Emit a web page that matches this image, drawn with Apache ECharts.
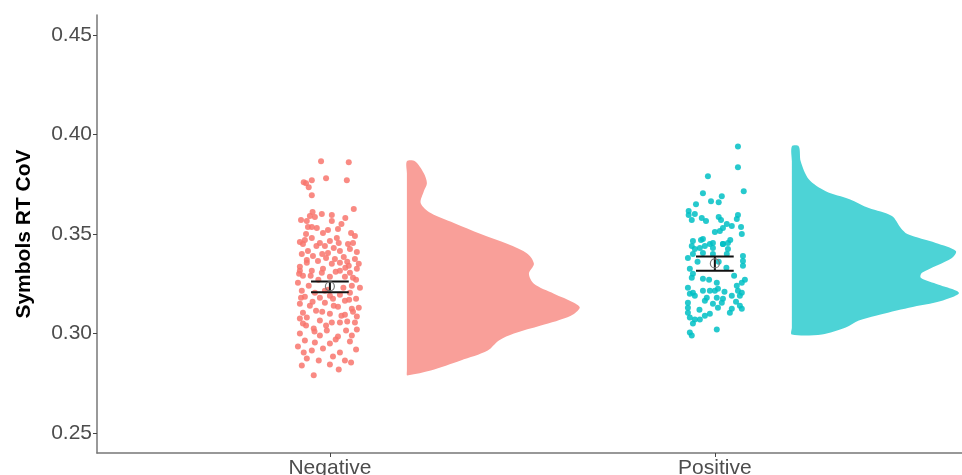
<!DOCTYPE html>
<html>
<head>
<meta charset="utf-8">
<script src="https://cdn.jsdelivr.net/npm/echarts@6/dist/echarts.min.js"></script>
<style>
  html, body { margin: 0; padding: 0; background: #fff; }
  #chart { width: 962px; height: 475px; }
</style>
</head>
<body>
<div id="chart"></div>
<script>
var categories = ['Negative', 'Positive'];
var yTicks = [0.25, 0.30, 0.35, 0.40, 0.45];

// jittered points: [offset from category centre, value]
var negPoints = [
	[-0.023, 0.3865], [0.049, 0.386], [-0.068, 0.376], [-0.062, 0.3755], [-0.047, 0.377],
	[-0.010, 0.378], [0.044, 0.377], [-0.055, 0.3735], [-0.047, 0.3695], [0.062, 0.3625],
	[-0.052, 0.359], [-0.039, 0.3585], [-0.021, 0.360], [0.005, 0.3595], [-0.060, 0.3565],
	[-0.057, 0.3535], [-0.047, 0.3535], [-0.034, 0.353], [0.005, 0.3565], [0.021, 0.3525],
	[0.055, 0.3505], [-0.062, 0.350], [-0.047, 0.348], [-0.018, 0.3505], [0.000, 0.3465],
	[0.018, 0.348], [0.023, 0.3455], [0.060, 0.3455], [0.047, 0.345], [-0.078, 0.346],
	[-0.070, 0.345], [-0.026, 0.3455], [-0.013, 0.344], [0.026, 0.3415], [0.052, 0.3425],
	[-0.057, 0.3415], [-0.073, 0.340], [-0.044, 0.339], [-0.005, 0.3405], [0.013, 0.3375],
	[0.036, 0.3385], [0.065, 0.3375], [-0.060, 0.3355], [-0.031, 0.3365], [0.005, 0.335],
	[0.026, 0.3355], [0.049, 0.334], [-0.078, 0.3335], [-0.018, 0.3325],
	[-0.078, 0.3315], [-0.047, 0.3315], [-0.021, 0.3305], [0.026, 0.3315], [0.052, 0.3305],
	[0.070, 0.3325], [-0.070, 0.329], [0.000, 0.3285], [0.039, 0.3285], [-0.083, 0.3255],
	[0.057, 0.324], [0.068, 0.327], [0.078, 0.323], [-0.073, 0.3215], [-0.039, 0.3205],
	[-0.013, 0.3215], [0.026, 0.3195], [0.052, 0.3205], [-0.065, 0.3185], [-0.026, 0.318],
	[0.008, 0.3175], [0.039, 0.3165], [0.068, 0.3175], [-0.078, 0.315], [-0.052, 0.314],
	[-0.013, 0.3155], [0.021, 0.3135], [0.057, 0.3125], [-0.070, 0.3105], [-0.036, 0.3115],
	[0.000, 0.310], [0.039, 0.3095], [0.070, 0.3085], [-0.078, 0.3075], [-0.026, 0.3065],
	[0.005, 0.3055], [0.026, 0.3055], [0.065, 0.3055], [-0.062, 0.304], [-0.042, 0.3025],
	[-0.008, 0.3015], [0.042, 0.3015], [-0.078, 0.300], [-0.026, 0.299], [0.021, 0.2985],
	[0.057, 0.299], [-0.065, 0.2965], [-0.039, 0.2955], [0.000, 0.295], [0.052, 0.296],
	[-0.083, 0.2935], [-0.018, 0.2925], [0.026, 0.2905], [0.068, 0.292], [-0.068, 0.2905],
	[-0.047, 0.2915], [0.008, 0.2885], [-0.060, 0.2875], [-0.029, 0.2865], [0.039, 0.2865],
	[0.055, 0.2855], [-0.073, 0.284], [0.000, 0.2845], [0.023, 0.282], [-0.042, 0.279],
	[-0.075, 0.357], [0.040, 0.358], [-0.005, 0.352], [0.065, 0.349], [-0.035, 0.344],
	[0.010, 0.343], [0.070, 0.341], [-0.060, 0.337], [-0.010, 0.338], [0.045, 0.336],
	[-0.080, 0.330], [0.015, 0.331], [-0.030, 0.327], [0.060, 0.328], [-0.055, 0.324],
	[0.035, 0.323], [-0.005, 0.322], [-0.075, 0.318], [0.050, 0.317], [-0.045, 0.316],
	[0.010, 0.314], [0.075, 0.313], [-0.020, 0.311], [0.030, 0.309], [-0.060, 0.308],
	[0.045, 0.306], [-0.010, 0.304], [0.070, 0.302], [-0.040, 0.301], [0.015, 0.297],
	[-0.070, 0.305], [0.060, 0.311], [0.000, 0.319], [-0.050, 0.329], [0.040, 0.333],
	[-0.020, 0.340], [0.075, 0.335], [-0.065, 0.347], [0.030, 0.355], [-0.045, 0.361]
];
var posPoints = [
	[0.060, 0.394], [0.060, 0.3835], [-0.018, 0.379], [0.075, 0.3715], [-0.031, 0.3705],
	[0.018, 0.369], [-0.010, 0.3665], [0.010, 0.366], [-0.049, 0.365], [-0.068, 0.3615],
	[-0.068, 0.3595], [-0.052, 0.360], [-0.034, 0.358], [-0.023, 0.3565], [-0.060, 0.357],
	[0.010, 0.3585], [0.016, 0.357], [0.060, 0.3595], [0.057, 0.3575], [0.031, 0.355],
	[0.044, 0.354], [0.021, 0.353], [0.068, 0.3535], [0.000, 0.351], [0.013, 0.3515],
	[0.070, 0.350], [-0.031, 0.3475], [-0.036, 0.347], [-0.057, 0.3465], [-0.005, 0.3455],
	[0.021, 0.345], [0.034, 0.3455],
	[-0.060, 0.344], [-0.052, 0.3425], [-0.039, 0.343], [-0.026, 0.344], [-0.013, 0.345],
	[-0.005, 0.343], [0.021, 0.345], [0.034, 0.3425], [-0.057, 0.340], [-0.031, 0.3405],
	[-0.005, 0.340], [0.031, 0.340], [0.073, 0.339], [0.073, 0.3365], [0.073, 0.334],
	[-0.065, 0.3325], [-0.057, 0.330], [-0.060, 0.328], [-0.031, 0.3275], [0.005, 0.3255],
	[0.070, 0.3255], [0.078, 0.327], [-0.070, 0.323], [-0.057, 0.3205], [-0.065, 0.320],
	[-0.052, 0.319], [-0.031, 0.3215], [-0.013, 0.3215], [0.000, 0.3215], [0.008, 0.3225],
	[0.057, 0.324], [0.060, 0.3215], [0.070, 0.3205], [0.065, 0.319], [-0.021, 0.318],
	[-0.026, 0.3165], [0.005, 0.318], [0.021, 0.3175], [0.018, 0.3155], [0.044, 0.319],
	[-0.005, 0.315], [0.008, 0.313], [0.044, 0.3125], [0.065, 0.314], [0.070, 0.3125],
	[-0.070, 0.3155], [-0.070, 0.313], [-0.070, 0.3105], [-0.065, 0.308], [-0.052, 0.307],
	[-0.039, 0.307], [-0.026, 0.309], [-0.013, 0.310], [0.039, 0.3105], [-0.057, 0.305],
	[-0.065, 0.3005], [-0.060, 0.299], [0.005, 0.302],
	[0.030, 0.333], [-0.045, 0.336], [0.050, 0.329], [-0.015, 0.327], [0.040, 0.347],
	[-0.070, 0.338], [0.025, 0.321], [-0.040, 0.312], [0.055, 0.316], [0.010, 0.336]
];

// half-violin outlines: value and density width (x units)
var negDensY = [0.3865, 0.3805, 0.3755, 0.3715, 0.3655, 0.3605, 0.3555, 0.350, 0.345, 0.340,
	0.335, 0.330, 0.325, 0.320, 0.3155, 0.313, 0.309, 0.304, 0.300, 0.2965, 0.2915, 0.2865, 0.2815, 0.279];
var negDensW = [0.021, 0.044, 0.052, 0.044, 0.036, 0.062, 0.122, 0.192, 0.262, 0.314,
	0.330, 0.317, 0.330, 0.382, 0.434, 0.449, 0.426, 0.348, 0.278, 0.239, 0.210, 0.140, 0.062, 0.004];
var posDensY = [0.394, 0.3865, 0.3775, 0.3715, 0.3675, 0.363, 0.359, 0.353, 0.350, 0.3455,
	0.3415, 0.338, 0.3305, 0.328, 0.325, 0.3205, 0.3165, 0.313, 0.309, 0.3065, 0.303, 0.2995];
var posDensW = [0.018, 0.023, 0.044, 0.088, 0.150, 0.200, 0.260, 0.283, 0.300, 0.374,
	0.426, 0.416, 0.338, 0.335, 0.374, 0.434, 0.390, 0.304, 0.218, 0.174, 0.140, 0.078];

// mean and interval
var meanValues = [0.3237, 0.3352];
var lowValues = [0.3207, 0.3315];
var highValues = [0.3262, 0.3387];

var pointColors = ['#F8766D', '#00BFC4'];
var cloudColors = ['#F99F99', '#4DD3D6'];

var chart = echarts.init(document.getElementById('chart'));

function placePoints(points, cat) {
	return points.map(function(p) {
		return [cat + p[0], p[1]];
	});
}

var densities = [
	{ y: negDensY, w: negDensW },
	{ y: posDensY, w: posDensW }
];

var option = {
	animation: false,
	grid: { left: 97, right: 0, top: 15, bottom: 22, outerBoundsMode: 'none' },
	xAxis: {
		type: 'value',
		min: 0.395,
		max: 2.642,
		splitLine: { show: false },
		axisLine: { show: true, lineStyle: { color: '#777', width: 1.5 } },
		axisTick: { show: true, customValues: [1, 2], length: 4, lineStyle: { color: '#444' } },
		axisLabel: {
			customValues: [1, 2],
			formatter: function(v) { return categories[Math.round(v) - 1]; },
			fontFamily: 'Liberation Sans',
			fontSize: 21,
			color: '#4d4d4d',
			margin: 5
		}
	},
	yAxis: {
		type: 'value',
		min: 0.24,
		max: 0.46,
		splitLine: { show: false },
		axisLine: { show: true, lineStyle: { color: '#777', width: 1.5 } },
		axisTick: { show: true, customValues: yTicks, length: 4, lineStyle: { color: '#444' } },
		axisLabel: {
			customValues: yTicks,
			formatter: function(v) { return v.toFixed(2); },
			fontFamily: 'Liberation Sans',
			fontSize: 21,
			color: '#4d4d4d',
			margin: 5
		},
		name: 'Symbols RT CoV',
		nameLocation: 'middle',
		nameGap: 62,
		nameTextStyle: { fontFamily: 'Liberation Sans', fontSize: 21, fontWeight: 'bold', color: '#000' }
	},
	series: [
		{
			type: 'custom',
			z: 1,
			clip: true,
			data: [[1, 0.3], [2, 0.3]],
			renderItem: function(params, api) {
				var d = densities[params.dataIndex];
				var base = params.dataIndex + 1 + 0.2;
				var pts = d.y.map(function(v, i) { return api.coord([base + d.w[i], v]); });
				// straight base edge, walked back up through the same levels
				for (var i = d.y.length - 1; i >= 0; i--) {
					pts.push(api.coord([base, d.y[i]]));
				}
				return {
					type: 'polygon',
					shape: { points: pts, smooth: 0.3 },
					style: { fill: cloudColors[params.dataIndex] }
				};
			}
		},
		{
			type: 'scatter',
			z: 2,
			symbolSize: 6,
			itemStyle: { color: pointColors[0], opacity: 0.85 },
			data: placePoints(negPoints, 1)
		},
		{
			type: 'scatter',
			z: 2,
			symbolSize: 6,
			itemStyle: { color: pointColors[1], opacity: 0.85 },
			data: placePoints(posPoints, 2)
		},
		{
			type: 'custom',
			z: 3,
			data: meanValues.map(function(m, i) { return [i + 1, m, lowValues[i], highValues[i]]; }),
			renderItem: function(params, api) {
				var c = api.value(0);
				var w = 0.049;
				var lo = api.coord([c, api.value(2)]);
				var hi = api.coord([c, api.value(3)]);
				var m = api.coord([c, api.value(1)]);
				var l1 = api.coord([c - w, api.value(3)]);
				var r1 = api.coord([c + w, api.value(3)]);
				var l2 = api.coord([c - w, api.value(2)]);
				var r2 = api.coord([c + w, api.value(2)]);
				var ls = { stroke: '#111', lineWidth: 2 };
				return {
					type: 'group',
					children: [
						{ type: 'line', shape: { x1: l1[0], y1: l1[1], x2: r1[0], y2: r1[1] }, style: ls },
						{ type: 'line', shape: { x1: l2[0], y1: l2[1], x2: r2[0], y2: r2[1] }, style: ls },
						{ type: 'line', shape: { x1: hi[0], y1: hi[1], x2: lo[0], y2: lo[1] }, style: ls },
						{ type: 'circle', shape: { cx: m[0], cy: m[1], r: 4.5 }, style: { fill: 'none', stroke: '#777', lineWidth: 1.2 } }
					]
				};
			}
		}
	]
};
chart.setOption(option);
</script>
</body>
</html>
